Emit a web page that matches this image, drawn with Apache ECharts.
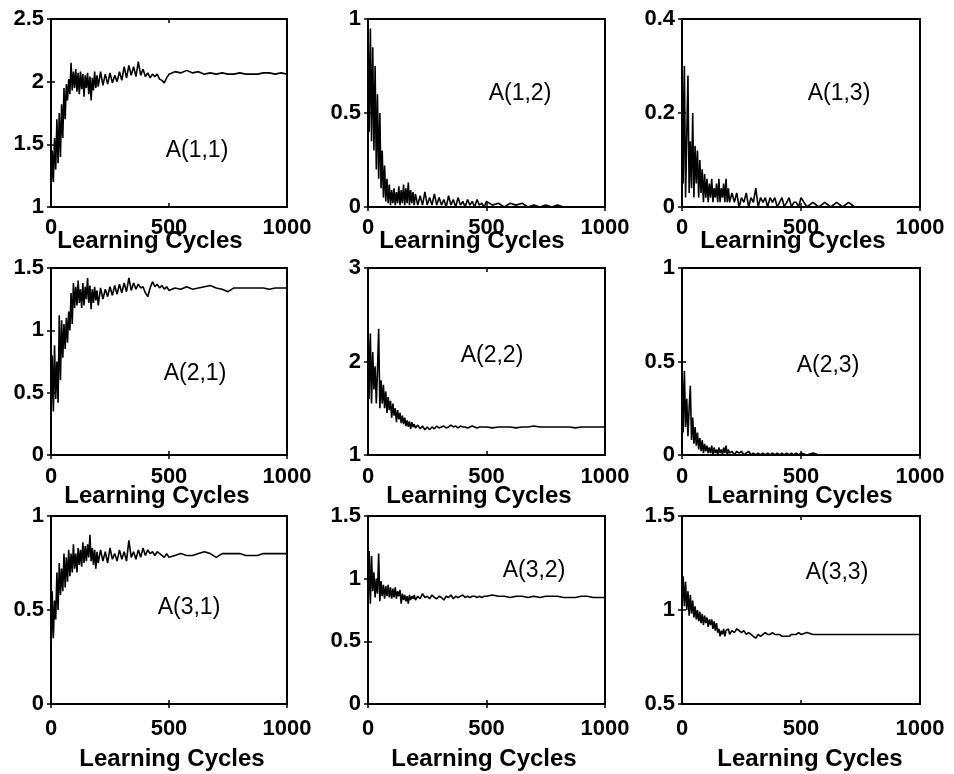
<!DOCTYPE html>
<html>
<head>
<meta charset="UTF-8">
<title>Learning Cycles</title>
<script src="https://cdn.jsdelivr.net/npm/echarts@6/dist/echarts.min.js"></script>
<style>
    html, body { margin: 0; padding: 0; background: #fff; }
    #main { width: 954px; height: 774px; }
</style>
</head>
<body>
<div id="main"></div>
<script>
// learning cycle sample points (dense at the start where the weights are noisy)
var cycles = [0,5,10,15,20,25,30,35,40,45,50,55,60,65,70,75,80,85,90,95,
    100,105,110,115,120,125,130,135,140,145,150,155,160,165,170,175,180,185,190,195,200,
    210,220,230,240,250,260,270,280,290,300,310,320,330,340,350,360,370,380,390,400,
    410,420,430,440,450,460,470,480,490,500,
    525,550,575,600,625,650,675,700,725,750,775,800,825,850,875,900,925,950,975,1000];

var a11 = [1.10,1.45,1.20,1.55,1.30,1.70,1.35,1.75,1.40,1.82,1.55,1.95,1.70,1.98,1.85,2.02,1.90,2.15,1.93,2.08,
    1.95,2.10,1.92,2.07,1.90,2.08,1.94,2.06,1.88,2.05,1.95,2.07,1.90,2.04,1.85,2.03,1.93,2.08,1.95,2.05,1.96,
    2.08,1.97,2.06,1.98,2.07,1.99,2.05,2.00,2.08,2.01,2.12,2.03,2.13,2.05,2.12,2.04,2.16,2.05,2.10,2.04,
    2.07,2.03,2.06,2.04,2.06,2.02,2.01,1.99,2.03,2.06,
    2.08,2.07,2.09,2.07,2.08,2.06,2.07,2.06,2.07,2.06,2.06,2.07,2.06,2.06,2.06,2.07,2.07,2.06,2.07,2.06];
var a12 = [0.98,0.40,0.95,0.35,0.85,0.30,0.75,0.20,0.60,0.15,0.50,0.10,0.30,0.05,0.22,0.03,0.15,0.02,0.12,0.01,
    0.09,0.02,0.10,0.01,0.08,0.02,0.11,0.01,0.09,0.02,0.12,0.01,0.10,0.02,0.13,0.01,0.09,0.02,0.08,0.01,0.07,
    0.01,0.06,0.01,0.08,0.01,0.05,0.01,0.07,0.01,0.05,0.01,0.04,0.00,0.06,0.01,0.04,0.00,0.05,0.01,0.03,
    0.00,0.04,0.01,0.03,0.00,0.04,0.01,0.02,0.00,0.03,
    0.01,0.02,0.00,0.02,0.01,0.02,0.00,0.01,0.00,0.01,0.00,0.01,0.00,0.00,0.00,0.00,0.00,0.00,0.00,0.00];
var a13 = [0.36,0.05,0.30,0.02,0.15,0.28,0.03,0.14,0.04,0.20,0.02,0.13,0.05,0.12,0.02,0.10,0.03,0.08,0.01,0.07,
    0.02,0.06,0.01,0.05,0.02,0.06,0.01,0.04,0.02,0.05,0.01,0.06,0.01,0.04,0.02,0.05,0.01,0.06,0.01,0.04,0.01,
    0.03,0.01,0.03,0.00,0.02,0.01,0.03,0.00,0.02,0.01,0.04,0.00,0.02,0.01,0.02,0.00,0.02,0.01,0.02,0.00,
    0.01,0.02,0.00,0.01,0.02,0.00,0.01,0.01,0.00,0.02,
    0.00,0.01,0.00,0.01,0.00,0.01,0.00,0.01,0.00,0.00,0.00,0.00,0.00,0.00,0.00,0.00,0.00,0.00,0.00,0.00];
var a21 = [0.30,0.80,0.35,0.88,0.45,0.75,0.42,1.12,0.60,1.08,0.78,1.05,0.85,1.10,0.90,1.15,1.00,1.30,1.05,1.38,
    1.18,1.35,1.20,1.40,1.22,1.33,1.18,1.38,1.20,1.35,1.25,1.42,1.22,1.36,1.17,1.33,1.22,1.35,1.24,1.32,1.20,
    1.34,1.25,1.33,1.27,1.35,1.28,1.36,1.29,1.37,1.30,1.38,1.31,1.42,1.32,1.38,1.33,1.37,1.34,1.35,1.30,
    1.27,1.34,1.39,1.35,1.37,1.34,1.36,1.33,1.35,1.32,
    1.34,1.33,1.35,1.33,1.34,1.35,1.36,1.34,1.33,1.31,1.34,1.34,1.34,1.34,1.34,1.34,1.33,1.34,1.34,1.34];
var a22 = [2.50,1.60,2.30,1.55,2.10,1.70,1.95,1.55,1.90,2.35,1.50,1.80,1.55,1.75,1.50,1.68,1.45,1.62,1.48,1.58,
    1.40,1.55,1.42,1.50,1.35,1.48,1.38,1.45,1.34,1.42,1.33,1.40,1.31,1.37,1.30,1.36,1.28,1.35,1.30,1.33,1.29,
    1.32,1.28,1.31,1.27,1.30,1.27,1.30,1.28,1.31,1.29,1.30,1.31,1.29,1.30,1.32,1.30,1.31,1.29,1.31,1.30,
    1.30,1.29,1.30,1.31,1.30,1.29,1.30,1.30,1.30,1.30,
    1.29,1.30,1.30,1.30,1.29,1.30,1.30,1.31,1.30,1.30,1.30,1.30,1.30,1.30,1.29,1.30,1.30,1.30,1.30,1.30];
var a23 = [0.50,0.12,0.45,0.15,0.30,0.10,0.25,0.37,0.08,0.20,0.06,0.15,0.05,0.12,0.03,0.09,0.02,0.08,0.01,0.06,
    0.02,0.05,0.01,0.04,0.01,0.05,0.00,0.04,0.01,0.03,0.00,0.04,0.01,0.03,0.00,0.04,0.01,0.05,0.00,0.03,0.01,
    0.02,0.00,0.02,0.01,0.02,0.00,0.01,0.02,0.00,0.01,0.00,0.01,0.00,0.01,0.00,0.01,0.00,0.01,0.00,0.01,
    0.00,0.01,0.00,0.01,0.00,0.01,0.00,0.01,0.00,0.01,
    0.00,0.01,0.00,0.00,0.00,0.00,0.00,0.00,0.00,0.00,0.00,0.00,0.00,0.00,0.00,0.00,0.00,0.00,0.00,0.00];
var a31 = [0.25,0.60,0.35,0.55,0.45,0.70,0.50,0.75,0.58,0.72,0.60,0.80,0.62,0.78,0.65,0.82,0.68,0.80,0.70,0.85,
    0.72,0.80,0.70,0.83,0.74,0.82,0.73,0.86,0.75,0.84,0.76,0.85,0.78,0.90,0.76,0.83,0.74,0.82,0.72,0.81,0.75,
    0.82,0.76,0.81,0.75,0.83,0.77,0.80,0.76,0.82,0.77,0.81,0.76,0.87,0.78,0.81,0.77,0.82,0.78,0.83,0.79,
    0.82,0.80,0.81,0.79,0.81,0.80,0.79,0.78,0.80,0.78,
    0.79,0.80,0.79,0.79,0.80,0.81,0.80,0.78,0.80,0.80,0.80,0.80,0.79,0.79,0.79,0.80,0.80,0.80,0.80,0.80];
var a32 = [0.75,1.22,0.80,1.18,0.90,1.05,0.85,1.00,0.88,1.20,0.82,0.98,0.86,0.95,0.84,0.94,0.86,0.95,0.85,0.93,
    0.84,0.92,0.85,0.93,0.84,0.90,0.86,0.91,0.80,0.88,0.83,0.87,0.82,0.86,0.80,0.87,0.83,0.86,0.84,0.87,0.83,
    0.86,0.84,0.88,0.85,0.86,0.84,0.87,0.85,0.84,0.86,0.85,0.83,0.86,0.85,0.87,0.84,0.86,0.85,0.86,0.87,
    0.85,0.86,0.85,0.86,0.86,0.85,0.86,0.85,0.86,0.86,
    0.87,0.86,0.86,0.85,0.86,0.86,0.85,0.86,0.85,0.86,0.86,0.86,0.85,0.85,0.85,0.86,0.86,0.85,0.85,0.85];
var a33 = [1.00,1.18,1.02,1.15,1.00,1.10,0.97,1.08,0.98,1.05,0.96,1.02,0.95,1.00,0.94,0.99,0.93,0.98,0.92,0.97,
    0.93,0.96,0.91,0.95,0.92,0.95,0.90,0.94,0.89,0.93,0.88,0.90,0.86,0.89,0.87,0.90,0.86,0.89,0.88,0.90,0.87,
    0.89,0.88,0.90,0.89,0.88,0.89,0.87,0.88,0.87,0.86,0.85,0.87,0.86,0.87,0.88,0.87,0.87,0.88,0.87,0.87,
    0.87,0.86,0.86,0.86,0.86,0.87,0.87,0.87,0.88,0.87,
    0.88,0.87,0.87,0.87,0.87,0.87,0.87,0.87,0.87,0.87,0.87,0.87,0.87,0.87,0.87,0.87,0.87,0.87,0.87,0.87];

var panelData = [a11, a12, a13, a21, a22, a23, a31, a32, a33];
var panelNames = ['A(1,1)', 'A(1,2)', 'A(1,3)', 'A(2,1)', 'A(2,2)', 'A(2,3)', 'A(3,1)', 'A(3,2)', 'A(3,3)'];
var yMin  = [1,   0, 0,   0,   1, 0,   0, 0,   0.5];
var yMax  = [2.5, 1, 0.4, 1.5, 3, 1,   1, 1.5, 1.5];
var yStep = [0.5, 0.5, 0.2, 0.5, 1, 0.5, 0.5, 0.5, 0.5];
var xTicks = [0, 500, 1000];

// layout (pixels)
var colLeft = [51, 368, 682];
var colWidth = [236, 237, 238];
var rowTop = [19, 268, 516];
var rowHeight = [188, 187, 188];
var xLabelMargin = [10, 11, 14];
var nameX = [[150, 472, 793], [157, 479, 800], [172, 484, 810]];
var nameY = [241, 496, 759];
var tagPos = [[197, 151], [520, 94], [839, 94], [195, 374], [492, 356], [828, 366], [189, 608], [534, 571], [837, 573]];

var font = '"Liberation Sans", Arial, Helvetica, sans-serif';
var plain = function (v) { return String(v); };

var grids = [], xAxes = [], yAxes = [], series = [], graphics = [];
for (var i = 0; i < 9; i++) {
    var r = Math.floor(i / 3), c = i % 3;
    grids.push({
        left: colLeft[c], top: rowTop[r], width: colWidth[c], height: rowHeight[r],
        show: true, borderColor: '#000', borderWidth: 2, backgroundColor: '#fff'
    });
    // bottom / left axes with labels
    xAxes.push({
        gridIndex: i, type: 'value', min: xTicks[0], max: xTicks[2], interval: 500,
        axisLine: { lineStyle: { color: '#000', width: 2 } },
        axisTick: { inside: true, length: 4, lineStyle: { color: '#000', width: 1.5 } },
        axisLabel: { color: '#000', fontFamily: font, fontWeight: 'bold', fontSize: 22, margin: xLabelMargin[r], formatter: plain },
        splitLine: { show: false }
    });
    yAxes.push({
        gridIndex: i, type: 'value', min: yMin[i], max: yMax[i], interval: yStep[i],
        axisLine: { lineStyle: { color: '#000', width: 2 } },
        axisTick: { inside: true, length: 4, lineStyle: { color: '#000', width: 1.5 } },
        axisLabel: { color: '#000', fontFamily: font, fontWeight: 'bold', fontSize: 22, margin: 7, formatter: plain },
        splitLine: { show: false }
    });
    // top / right axes only for the inner ticks of the box
    xAxes.push({
        gridIndex: i, type: 'value', position: 'top', min: xTicks[0], max: xTicks[2], interval: 500,
        axisLine: { lineStyle: { color: '#000', width: 2 } },
        axisTick: { inside: true, length: 4, lineStyle: { color: '#000', width: 1.5 } },
        axisLabel: { show: false }, splitLine: { show: false }
    });
    yAxes.push({
        gridIndex: i, type: 'value', position: 'right', min: yMin[i], max: yMax[i], interval: yStep[i],
        axisLine: { lineStyle: { color: '#000', width: 2 } },
        axisTick: { inside: true, length: 4, lineStyle: { color: '#000', width: 1.5 } },
        axisLabel: { show: false }, splitLine: { show: false }
    });
    var vals = panelData[i];
    series.push({
        name: panelNames[i], type: 'line',
        xAxisIndex: 2 * i, yAxisIndex: 2 * i,
        data: cycles.map(function (cy, k) { return [cy, vals[k]]; }),
        showSymbol: false, symbol: 'none', silent: true, animation: false,
        lineStyle: { color: '#000', width: 1.6 }
    });
    graphics.push({
        type: 'text', x: tagPos[i][0], y: tagPos[i][1],
        style: { text: panelNames[i], fill: '#000', font: '23px ' + font, align: 'center', verticalAlign: 'middle' }
    });
    graphics.push({
        type: 'text', x: nameX[r][c], y: nameY[r],
        style: { text: 'Learning Cycles', fill: '#000', font: 'bold 24px ' + font, align: 'center', verticalAlign: 'middle' }
    });
}

var myChart = echarts.init(document.getElementById('main'));
myChart.setOption({
    animation: false,
    backgroundColor: '#fff',
    grid: grids,
    xAxis: xAxes,
    yAxis: yAxes,
    series: series,
    graphic: graphics
});
</script>
</body>
</html>
